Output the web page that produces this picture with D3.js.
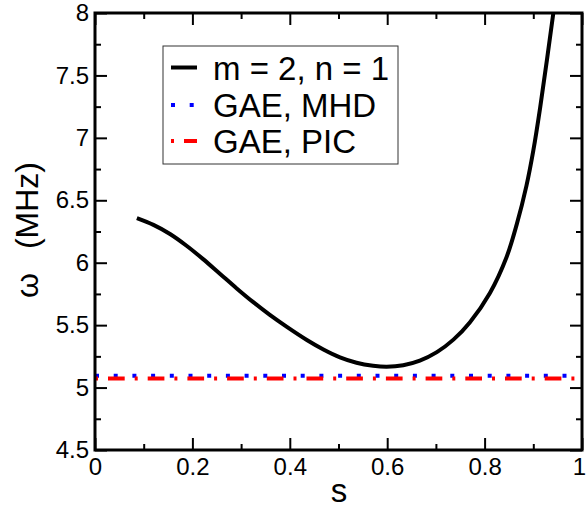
<!DOCTYPE html>
<html>
<head>
<meta charset="utf-8">
<script src="https://cdn.jsdelivr.net/npm/d3@7"></script>
<style>
  html, body { margin: 0; padding: 0; background: #fff; }
  svg { display: block; font-family: "Liberation Sans", Arial, sans-serif; }
</style>
</head>
<body>
<svg id="chart" width="586" height="508"></svg>
<script>
// ---- data ----
const curveS = [0.086, 0.12, 0.154, 0.188, 0.222, 0.257, 0.291, 0.325, 0.359, 0.394, 0.435, 0.469, 0.503, 0.537, 0.571, 0.599, 0.633, 0.667, 0.702, 0.736, 0.770, 0.811, 0.845, 0.866, 0.886, 0.900, 0.914, 0.941, 0.955];
const curveW = [6.357, 6.303, 6.23, 6.136, 6.029, 5.91, 5.794, 5.684, 5.582, 5.486, 5.381, 5.305, 5.242, 5.199, 5.175, 5.167, 5.179, 5.216, 5.284, 5.384, 5.524, 5.758, 6.044, 6.307, 6.617, 6.897, 7.24, 7.996, 8.416];
const mhdS = [0.0, 0.99];
const mhdW = [5.094, 5.094];
const picS = [0.0, 0.99];
const picW = [5.072, 5.072];
const xMajorTicks = [0, 0.2, 0.4, 0.6, 0.8, 1];
const xTickLabels = ["0", "0.2", "0.4", "0.6", "0.8", "1"];
const xMinorTicks = [0.1, 0.3, 0.5, 0.7, 0.9];
const yMajorTicks = [4.5, 5, 5.5, 6, 6.5, 7, 7.5, 8];
const yTickLabels = ["4.5", "5", "5.5", "6", "6.5", "7", "7.5", "8"];
const yMinorTicks = [4.75, 5.25, 5.75, 6.25, 6.75, 7.25, 7.75];
const legendLabels = ["m = 2, n = 1", "GAE, MHD", "GAE, PIC"];

// ---- layout ----
const L = 95, R = 582, T = 13, B = 450;
const svg = d3.select("#chart");
const x = d3.scaleLinear().domain([0, 1]).range([L, R]);
const y = d3.scaleLinear().domain([4.5, 8]).range([B, T]);

svg.append("defs").append("clipPath").attr("id", "clip")
  .append("rect").attr("x", L).attr("y", T).attr("width", R - L).attr("height", B - T);

const styles = [
  { stroke: "#000", width: 4, dash: null },
  { stroke: "#0000ff", width: 4, dash: "4,14.7" },
  { stroke: "#ff0000", width: 4, dash: "3,10,16.7,10" }
];

const line = d3.line().x(d => x(d[0])).y(d => y(d[1]));
const plot = svg.append("g").attr("clip-path", "url(#clip)");

plot.append("path")
  .datum(mhdS.map((s, i) => [s, mhdW[i]]))
  .attr("d", line).attr("fill", "none")
  .attr("stroke", styles[1].stroke).attr("stroke-width", styles[1].width)
  .attr("stroke-dasharray", styles[1].dash);

plot.append("path")
  .datum(picS.map((s, i) => [s, picW[i]]))
  .attr("d", line).attr("fill", "none")
  .attr("stroke", styles[2].stroke).attr("stroke-width", styles[2].width)
  .attr("stroke-dasharray", styles[2].dash);

plot.append("path")
  .datum(curveS.map((s, i) => [s, curveW[i]]))
  .attr("d", d3.line().x(d => x(d[0])).y(d => y(d[1])).curve(d3.curveCatmullRom.alpha(0.5)))
  .attr("fill", "none")
  .attr("stroke", styles[0].stroke).attr("stroke-width", styles[0].width)
  .attr("stroke-linejoin", "round");

// ---- axes ----
function styleAxis(g) {
  g.select(".domain").remove();
  g.selectAll(".tick line").attr("stroke", "#000").attr("stroke-width", 2);
  g.selectAll("text").attr("font-size", 24).attr("fill", "#000")
    .attr("font-family", "Liberation Sans, Arial, sans-serif");
}
// bottom
svg.append("g").attr("transform", `translate(0,${B})`)
  .call(d3.axisBottom(x).tickValues(xMinorTicks).tickSize(-6).tickFormat(""))
  .call(styleAxis);
const xMajor = svg.append("g").attr("transform", `translate(0,${B})`)
  .call(d3.axisBottom(x).tickValues(xMajorTicks).tickSize(-12).tickPadding(8)
    .tickFormat((d, i) => xTickLabels[i]))
  .call(styleAxis);
// keep the last label inside the page
xMajor.selectAll(".tick text").filter(d => d === 1).attr("dx", -3);
// top
svg.append("g").attr("transform", `translate(0,${T})`)
  .call(d3.axisTop(x).tickValues(xMinorTicks).tickSize(-6).tickFormat(""))
  .call(styleAxis);
svg.append("g").attr("transform", `translate(0,${T})`)
  .call(d3.axisTop(x).tickValues(xMajorTicks).tickSize(-12).tickFormat(""))
  .call(styleAxis);
// left
svg.append("g").attr("transform", `translate(${L},0)`)
  .call(d3.axisLeft(y).tickValues(yMinorTicks).tickSize(-6).tickFormat(""))
  .call(styleAxis);
svg.append("g").attr("transform", `translate(${L},0)`)
  .call(d3.axisLeft(y).tickValues(yMajorTicks).tickSize(-12).tickPadding(6)
    .tickFormat((d, i) => yTickLabels[i]))
  .call(styleAxis);
// right
svg.append("g").attr("transform", `translate(${R},0)`)
  .call(d3.axisRight(y).tickValues(yMinorTicks).tickSize(-6).tickFormat(""))
  .call(styleAxis);
svg.append("g").attr("transform", `translate(${R},0)`)
  .call(d3.axisRight(y).tickValues(yMajorTicks).tickSize(-12).tickFormat(""))
  .call(styleAxis);

// frame
svg.append("rect").attr("x", L).attr("y", T).attr("width", R - L).attr("height", B - T)
  .attr("fill", "none").attr("stroke", "#000").attr("stroke-width", 3);

// axis titles
svg.append("text").attr("x", 339).attr("y", 502).attr("text-anchor", "middle")
  .attr("font-size", 33).text("s");
const yt = svg.append("text")
  .attr("transform", "translate(38,230) rotate(-90)")
  .attr("text-anchor", "middle").attr("font-size", 32);
yt.append("tspan").text("ω");
yt.append("tspan").attr("dx", 24).text("(MHz)");

// ---- legend ----
const lg = svg.append("g");
lg.append("rect").attr("x", 163).attr("y", 46).attr("width", 235).attr("height", 118)
  .attr("fill", "#fff").attr("stroke", "#333").attr("stroke-width", 1);
const rowY = [67.5, 105, 141];
legendLabels.forEach((lab, i) => {
  lg.append("line").attr("x1", 171).attr("x2", 197).attr("y1", rowY[i]).attr("y2", rowY[i])
    .attr("stroke", styles[i].stroke).attr("stroke-width", styles[i].width)
    .attr("stroke-dasharray", styles[i].dash);
  lg.append("text").attr("x", 213).attr("y", rowY[i] + 12)
    .attr("font-size", 33).attr("fill", "#000").text(lab);
});
</script>
</body>
</html>
